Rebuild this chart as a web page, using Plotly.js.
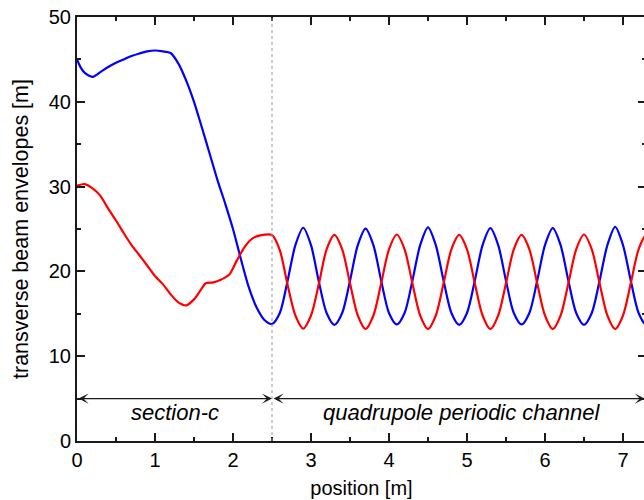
<!DOCTYPE html>
<html>
<head>
<meta charset="utf-8">
<script src="https://cdn.plot.ly/plotly-3.0.1.min.js"></script>
<style>
html, body { margin: 0; padding: 0; overflow: hidden; background: #fff; }
#chart { width: 646px; height: 500px; }
</style>
</head>
<body>
<div id="chart"></div>
<script>
// ---- data ----
const sectionBlueX = [0, 0.05, 0.1, 0.2, 0.3, 0.4, 0.5, 0.6, 0.7, 0.8, 0.9, 1.0, 1.1, 1.2, 1.3, 1.4, 1.5, 1.6, 1.7, 1.8, 1.9, 2.0, 2.1, 2.2, 2.3, 2.4, 2.5];
const sectionBlue  = [45.0, 44.0, 43.4, 42.95, 43.5, 44.1, 44.6, 45.0, 45.4, 45.7, 45.95, 46.05, 45.95, 45.75, 44.5, 42.5, 40.0, 37.0, 33.9, 30.8, 28.0, 25.0, 21.5, 18.2, 15.8, 14.3, 13.8];

const sectionRedX = [0, 0.1, 0.2, 0.3, 0.4, 0.5, 0.6, 0.7, 0.8, 0.9, 1.0, 1.1, 1.2, 1.3, 1.4, 1.5, 1.6, 1.65, 1.75, 1.85, 1.95, 2.05, 2.15, 2.25, 2.35, 2.5];
const sectionRed  = [30.1, 30.3, 29.8, 28.9, 27.4, 26.0, 24.5, 23.1, 21.9, 20.7, 19.45, 18.5, 17.3, 16.35, 16.0, 16.7, 18.0, 18.6, 18.7, 19.05, 19.6, 21.3, 22.9, 23.9, 24.25, 24.3];

const channelX = [2.6, 2.7, 2.8, 2.9, 3.0, 3.1, 3.2, 3.3, 3.4, 3.5, 3.6, 3.7, 3.8, 3.9, 4.0, 4.1, 4.2, 4.3, 4.4, 4.5, 4.6, 4.7, 4.8, 4.9, 5.0, 5.1, 5.2, 5.3, 5.4, 5.5, 5.6, 5.7, 5.8, 5.9, 6.0, 6.1, 6.2, 6.3, 6.4, 6.5, 6.6, 6.7, 6.8, 6.9, 7.0, 7.1, 7.2, 7.3, 7.4];
const channelBlue = [15.1, 18.9, 23.1, 25.15, 23.1, 18.8, 15.1, 13.7, 15.1, 18.9, 23.1, 25.05, 23.1, 18.9, 15.1, 13.75, 15.1, 18.9, 23.1, 25.2, 23.1, 18.9, 15.1, 13.7, 15.1, 18.9, 23.1, 25.1, 23.1, 18.9, 15.1, 13.75, 15.1, 18.9, 23.1, 25.1, 23.1, 18.9, 15.1, 13.7, 15.1, 18.9, 23.1, 25.25, 23.1, 18.9, 15.1, 13.7, 15.1];
const channelRed  = [22.5, 18.4, 14.8, 13.25, 14.8, 18.5, 22.6, 24.3, 22.6, 18.6, 14.8, 13.2, 14.8, 18.6, 22.6, 24.35, 22.6, 18.6, 14.8, 13.2, 14.8, 18.6, 22.6, 24.3, 22.6, 18.6, 14.8, 13.2, 14.8, 18.6, 22.6, 24.3, 22.6, 18.6, 14.8, 13.2, 14.8, 18.6, 22.6, 24.35, 22.6, 18.6, 14.8, 13.2, 14.8, 18.6, 22.6, 24.3, 22.6];

const sectionNames = ['section-c', 'quadrupole periodic channel'];
const sectionBounds = [0, 2.5, 7.28];
const arrowLevel = 5;
const labelLevel = 3.4;
const xTitle = 'position [m]';
const yTitle = 'transverse beam envelopes [m]';

// ---- chart ----
const FONT = 'Arial, "Liberation Sans", sans-serif';
const lineCol = '#1a1a1a';
const PAD = '\u00a0\u00a0\u00a0\u00a0\u00a0'; // trailing padding to nudge the rotated title down

const traces = [
  { x: sectionBlueX.concat(channelX), y: sectionBlue.concat(channelBlue), mode: 'lines',
    line: { color: '#0000ff', width: 2.2, shape: 'spline', smoothing: 0.8 }, hoverinfo: 'skip' },
  { x: sectionRedX.concat(channelX), y: sectionRed.concat(channelRed), mode: 'lines',
    line: { color: '#ff0000', width: 2.2, shape: 'spline', smoothing: 0.8 }, hoverinfo: 'skip' }
];

const annotations = [];
for (let i = 0; i < sectionNames.length; i++) {
  const a = sectionBounds[i], b = sectionBounds[i + 1];
  annotations.push({
    x: b, y: arrowLevel, ax: a, ay: arrowLevel, xref: 'x', yref: 'y', axref: 'x', ayref: 'y',
    text: '', showarrow: true, arrowhead: 3, startarrowhead: 3, arrowside: 'end+start',
    arrowsize: 1.3, startarrowsize: 1.3, arrowwidth: 1.3, arrowcolor: lineCol, standoff: 0, startstandoff: 0
  });
  annotations.push({
    x: (a + b) / 2 + (i === 1 ? 0.04 : 0), y: labelLevel, xref: 'x', yref: 'y', text: '<i>' + sectionNames[i] + '</i>',
    showarrow: false, font: { family: FONT, size: 22, color: '#000' }
  });
}

const layout = {
  width: 646, height: 500,
  margin: { l: 77, r: 0, t: 17, b: 59 },
  paper_bgcolor: '#fff', plot_bgcolor: '#fff',
  showlegend: false,
  font: { family: FONT, size: 20, color: '#000' },
  xaxis: {
    range: [0, 7.295], dtick: 1, tick0: 0, ticks: 'inside', ticklen: 8, tickwidth: 2, tickcolor: lineCol,
    showline: true, linewidth: 2, linecolor: lineCol, mirror: 'allticks', showgrid: false, zeroline: false,
    minor: { dtick: 0.5, ticks: 'inside', ticklen: 4, tickwidth: 2, tickcolor: lineCol, showgrid: false },
    tickfont: { family: FONT, size: 20, color: '#000' },
    title: { text: xTitle, font: { family: FONT, size: 20, color: '#000' }, standoff: 11 }
  },
  yaxis: {
    range: [0, 50], dtick: 10, tick0: 0, ticks: 'inside', ticklen: 8, tickwidth: 2, tickcolor: lineCol,
    showline: true, linewidth: 2, linecolor: lineCol, mirror: 'allticks', showgrid: false, zeroline: false,
    minor: { dtick: 5, ticks: 'inside', ticklen: 4, tickwidth: 2, tickcolor: lineCol, showgrid: false },
    tickfont: { family: FONT, size: 20, color: '#000' },
    title: { text: yTitle + PAD, font: { family: FONT, size: 21.5, color: '#000' }, standoff: 14 }
  },
  shapes: [
    { type: 'line', xref: 'x', yref: 'paper', x0: sectionBounds[1], x1: sectionBounds[1], y0: 0, y1: 1,
      line: { color: '#999', width: 1, dash: 'dot' } }
  ],
  annotations: annotations
};

Plotly.newPlot('chart', traces, layout, { displayModeBar: false, staticPlot: true });
</script>
</body>
</html>
